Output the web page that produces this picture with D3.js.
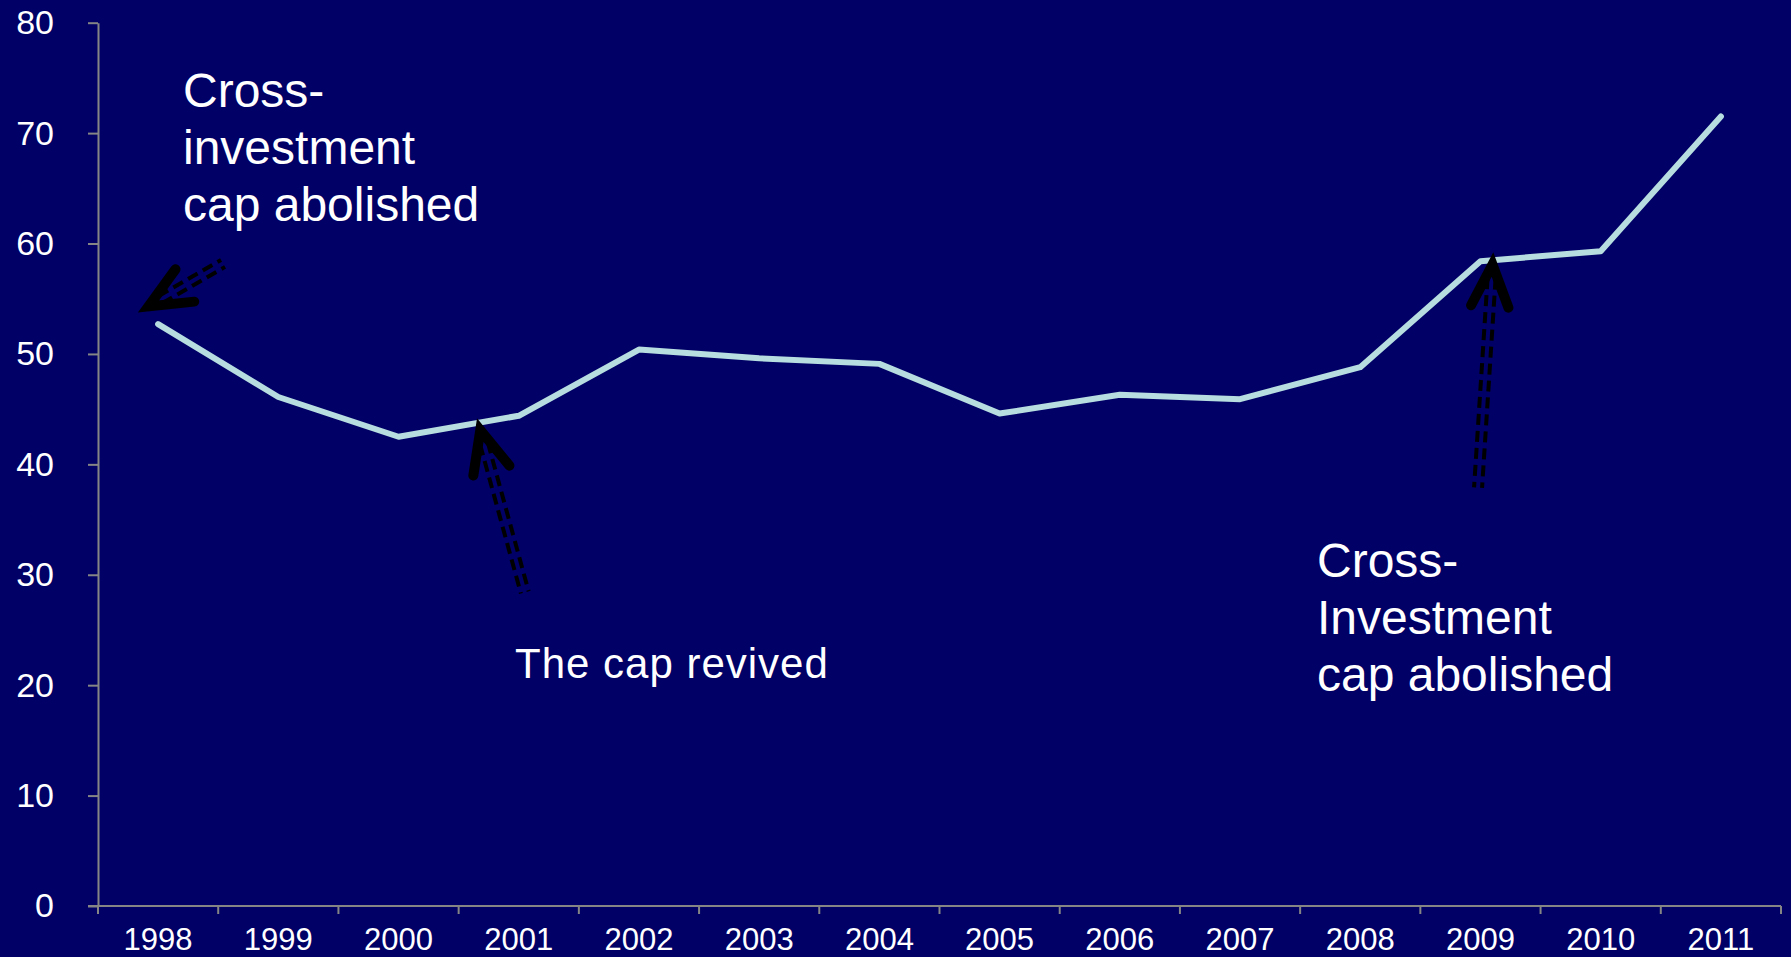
<!DOCTYPE html>
<meta charset="utf-8">
<style>
  body { margin: 0; background: #000066; }
  .axis path, .axis line { stroke: #858585; stroke-width: 2; }
  .axis text { fill: #ffffff; font-family: "Liberation Sans", Arial, sans-serif; }
  .note { fill: #ffffff; font-family: "Liberation Sans", Arial, sans-serif; }
</style>
<body>
<script src="https://cdn.jsdelivr.net/npm/d3@7"></script>
<script>

// data
var years = [1998, 1999, 2000, 2001, 2002, 2003, 2004, 2005, 2006, 2007, 2008, 2009, 2010, 2011];
var values = [52.7, 46.1, 42.5, 44.4, 50.4, 49.6, 49.1, 44.6, 46.3, 45.9, 48.8, 58.4, 59.3, 71.5];
var yTicks = [0, 10, 20, 30, 40, 50, 60, 70, 80];

// arrows: tip and tail in (year, value) units
var arrowTip = [[1997.92, 54.3], [2000.68, 43.1], [2009.10, 58.1]];
var arrowTail = [[1998.54, 58.2], [2001.05, 28.4], [2008.98, 37.9]];

// annotation texts
var leftNote = ["Cross-", "investment", "cap abolished"];
var rightNote = ["Cross-", "Investment", "cap abolished"];
var midNote = "The cap revived";

// set the dimensions and margins of the graph
var W = 1791, H = 957;
var margin = {top: 22.7, right: 10, bottom: 51, left: 98},
    width = 1781 - margin.left,
    height = 906 - margin.top;

var svg = d3.select("body").append("svg")
    .attr("width", W)
    .attr("height", H);

svg.append("rect")
    .attr("width", W).attr("height", H)
    .attr("fill", "#000066");

var g = svg.append("g")
    .attr("transform", "translate(" + margin.left + "," + margin.top + ")");

// scales
var x = d3.scaleBand().domain(years).range([0, width]).padding(0);
var y = d3.scaleLinear().domain([0, 80]).range([height, 0]);
var bw = x.bandwidth();
// continuous year scale for the annotations
var xl = d3.scaleLinear()
    .domain([years[0], years[years.length - 1]])
    .range([x(years[0]) + bw / 2, x(years[years.length - 1]) + bw / 2]);

// y axis
g.append("g")
    .attr("class", "axis")
    .call(d3.axisLeft(y).tickValues(yTicks).tickSize(10).tickPadding(34).tickSizeOuter(0))
    .selectAll("text")
    .style("font-size", "34px");

// x axis (labels centred, ticks at band edges)
var xa = g.append("g")
    .attr("class", "axis")
    .attr("transform", "translate(0," + height + ")")
    .call(d3.axisBottom(x).tickSize(0).tickPadding(22).tickSizeOuter(0));
xa.selectAll("text").style("font-size", "31px");
xa.select(".domain").attr("d", "M-10,0H" + width);

xa.selectAll(".edge")
    .data(years.concat(["end"]))
    .enter().append("line")
    .attr("class", "edge")
    .attr("x1", function (d) { return d === "end" ? width : x(d); })
    .attr("x2", function (d) { return d === "end" ? width : x(d); })
    .attr("y1", 0)
    .attr("y2", 8);

// the line
var line = d3.line()
    .x(function (d, i) { return x(years[i]) + bw / 2; })
    .y(function (d) { return y(d); });

g.append("path")
    .datum(values)
    .attr("fill", "none")
    .attr("stroke", "#b7dde0")
    .attr("stroke-width", 6)
    .attr("stroke-linecap", "round")
    .attr("stroke-linejoin", "round")
    .attr("d", line);

// arrows
arrowTip.forEach(function (tip, i) {
    var tail = arrowTail[i];
    var tx = xl(tip[0]), ty = y(tip[1]);
    var ex = xl(tail[0]), ey = y(tail[1]);
    var len = Math.hypot(ex - tx, ey - ty);
    var ux = (ex - tx) / len, uy = (ey - ty) / len;
    var px = -uy, py = ux;

    // double dashed shaft
    [-4, 4].forEach(function (o) {
        g.append("line")
            .attr("x1", tx + ux * 14 + px * o)
            .attr("y1", ty + uy * 14 + py * o)
            .attr("x2", ex + px * o)
            .attr("y2", ey + py * o)
            .attr("stroke", "#000")
            .attr("stroke-width", 4)
            .attr("stroke-dasharray", "11,6");
    });

    // chevron head
    var a = 24 * Math.PI / 180, L = 46;
    function arm(s) {
        var c = Math.cos(s * a), sn = Math.sin(s * a);
        return [tx + L * (ux * c - uy * sn), ty + L * (ux * sn + uy * c)];
    }
    var p1 = arm(1), p2 = arm(-1);
    g.append("path")
        .attr("d", "M" + p1 + "L" + [tx, ty] + "L" + p2)
        .attr("fill", "none")
        .attr("stroke", "#000")
        .attr("stroke-width", 10)
        .attr("stroke-linecap", "round")
        .attr("stroke-linejoin", "miter");
});

// annotation texts
function block(lines, x0, y0) {
    var t = svg.append("text")
        .attr("class", "note")
        .style("font-size", "48px");
    lines.forEach(function (s, i) {
        t.append("tspan").attr("x", x0).attr("y", y0 + i * 57).text(s);
    });
}
block(leftNote, 183, 107);
block(rightNote, 1317, 577);

svg.append("text")
    .attr("class", "note")
    .attr("x", 515)
    .attr("y", 678)
    .style("font-size", "42px")
    .style("letter-spacing", "1px")
    .text(midNote);

</script>
</body>
